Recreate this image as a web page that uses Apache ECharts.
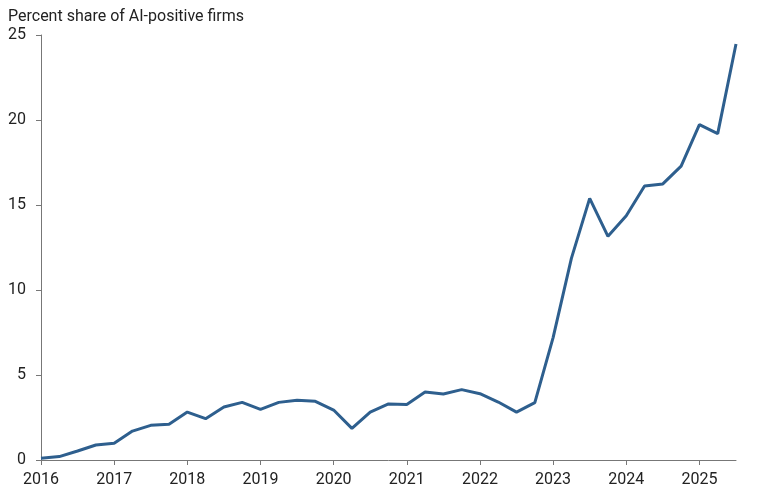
<!DOCTYPE html>
<html>
<head>
<meta charset="utf-8">
<script src="https://cdn.jsdelivr.net/npm/echarts@6/dist/echarts.min.js"></script>
<style>
html, body { margin: 0; padding: 0; background: #fff; }
#chart { width: 768px; height: 492px; }
</style>
</head>
<body>
<div id="chart"></div>
<script>
// quarterly, 2016Q1 .. 2025Q3
const quarters = [];
for (let y = 2016; y <= 2025; y++) {
	for (let q = 1; q <= 4; q++) {
		if (y === 2025 && q > 3) break;
		quarters.push(y + "Q" + q);
	}
}

const shares = [
	0.1, 0.2, 0.53, 0.88, 0.98, 1.7, 2.04, 2.1,
	2.82, 2.43, 3.12, 3.39, 2.98, 3.39, 3.51, 3.45,
	2.94, 1.86, 2.82, 3.3, 3.27, 4.0, 3.88, 4.14,
	3.9, 3.41, 2.82, 3.37, 7.2, 11.86, 15.39, 13.16,
	14.37, 16.12, 16.24, 17.29, 19.73, 19.2, 24.47
];

const yTicks = [0, 5, 10, 15, 20, 25];

const chart = echarts.init(document.getElementById("chart"));

chart.setOption({
	animation: false,
	textStyle: { fontFamily: "Roboto" },
	title: {
		text: "Percent share of AI-positive firms",
		left: 3,
		top: 4,
		textStyle: { fontFamily: "Roboto", fontSize: 16, fontWeight: "normal", color: "#222" },
	},
	grid: { left: 41, right: 32, top: 35, bottom: 32 },
	xAxis: {
		type: "category",
		boundaryGap: false,
		data: quarters,
		axisLine: { lineStyle: { color: "#777", width: 1 } },
		axisTick: { interval: 3, length: 5, lineStyle: { color: "#777" } },
		axisLabel: {
			interval: 3,
			formatter: (v) => v.slice(0, 4),
			fontSize: 16,
			color: "#222",
			margin: 12,
		},
	},
	yAxis: {
		type: "value",
		min: yTicks[0],
		max: yTicks[yTicks.length - 1],
		interval: 5,
		axisLine: { show: true, lineStyle: { color: "#777", width: 1 } },
		axisTick: { show: true, length: 5, lineStyle: { color: "#777" } },
		axisLabel: { fontSize: 16, color: "#222", margin: 15 },
		splitLine: { show: false },
	},
	series: [
		{
			type: "line",
			data: shares,
			symbol: "none",
			lineStyle: { color: "#2e5f8e", width: 3 },
		},
	],
});
</script>
</body>
</html>
